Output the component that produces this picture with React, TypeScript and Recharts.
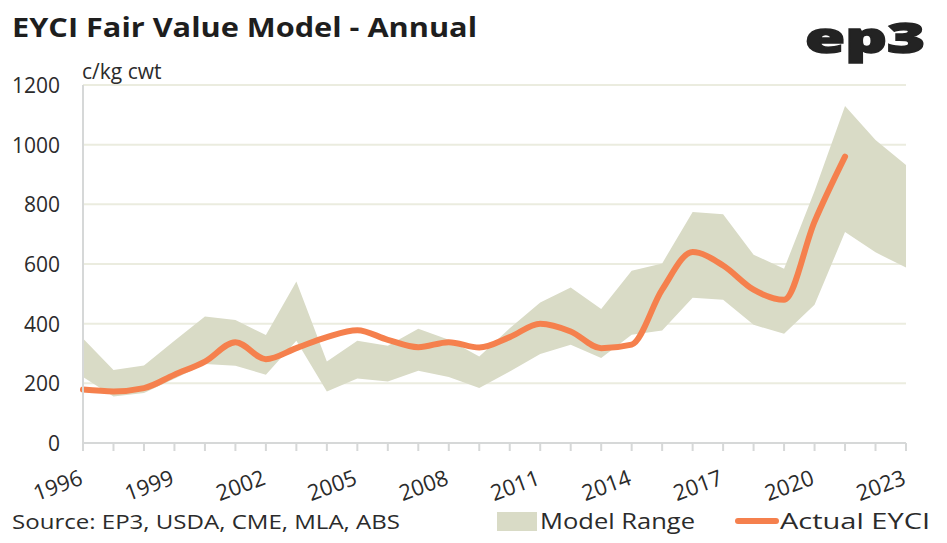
import React from "react";
import { ComposedChart, Area, Line, XAxis, YAxis, CartesianGrid } from "recharts";

// EYCI fair value model, c/kg cwt
const years = [
  1996, 1997, 1998, 1999, 2000, 2001, 2002, 2003, 2004, 2005, 2006, 2007, 2008, 2009,
  2010, 2011, 2012, 2013, 2014, 2015, 2016, 2017, 2018, 2019, 2020, 2021, 2022, 2023,
];
const modelHigh = [
  350, 245, 260, 343, 424, 412, 362, 541, 273, 343, 326, 383, 346, 290,
  385, 471, 521, 449, 577, 602, 774, 767, 631, 584, 845, 1130, 1016, 932,
];
const modelLow = [
  221, 156, 168, 215, 265, 259, 229, 343, 173, 216, 206, 242, 221, 184,
  240, 298, 329, 285, 363, 377, 487, 480, 396, 366, 463, 707, 639, 588,
];
const actualEyci: (number | null)[] = [
  179, 173, 184, 229, 273, 338, 281, 318, 355, 378, 346, 321, 338, 320,
  355, 400, 374, 318, 330, 514, 640, 595, 514, 480, 742, 960, null, null,
];
const yTicks = [0, 200, 400, 600, 800, 1000, 1200];
const labelYears = [1996, 1999, 2002, 2005, 2008, 2011, 2014, 2017, 2020, 2023];

const FONT = "'Open Sans', sans-serif";
const TEXT = "#2b2b2b";
const BAND = "#d9dbc6";
const ORANGE = "#f5804d";

const data = years.map((year, i) => ({
  year,
  range: [modelLow[i], modelHigh[i]],
  actual: actualEyci[i],
}));

function YTick(props: any) {
  const { y, payload } = props;
  return (
    <text x={60} y={y} textAnchor="end" dominantBaseline="central" fontSize={21} fill={TEXT} fontFamily={FONT}>
      {payload.value}
    </text>
  );
}

function XTick(props: any) {
  const { x, y, payload } = props;
  if (!labelYears.includes(payload.value)) return null;
  return (
    <g transform={`translate(${x + 1},${y + 31}) rotate(-20)`}>
      <text x={0} y={0} textAnchor="end" fontSize={22} fill={TEXT} fontFamily={FONT}>
        {payload.value}
      </text>
    </g>
  );
}

export default function App() {
  return (
    <div style={{ position: "absolute", left: 0, top: 0, width: 947, height: 543, background: "#fff", fontFamily: FONT }}>
      <svg style={{ position: "absolute", left: 0, top: 0 }} width={947} height={92}>
        <text x={12} y={37} fontSize={26} fontWeight={700} fill="#1e1e1e" fontFamily={FONT} textLength={465} lengthAdjust="spacingAndGlyphs">
          EYCI Fair Value Model - Annual
        </text>
        <text
          x={805}
          y={53}
          fontSize={43}
          fontWeight={800}
          fill="#232323"
          stroke="#232323"
          strokeWidth={1.5}
          fontFamily={FONT}
          textLength={120}
          lengthAdjust="spacingAndGlyphs"
        >
          ep3
        </text>
        <text x={82} y={79} fontSize={21} fill={TEXT} fontFamily={FONT}>
          c/kg cwt
        </text>
      </svg>

      <ComposedChart width={947} height={543} data={data} margin={{ top: 85, right: 41, bottom: 70, left: 0 }}>
        <CartesianGrid vertical={false} stroke="#ebecdf" strokeWidth={2} />
        <XAxis
          dataKey="year"
          type="number"
          domain={[1996, 2023]}
          ticks={years}
          interval={0}
          height={30}
          stroke="#d6d8d8"
          strokeWidth={2}
          tickSize={8}
          tickLine={{ stroke: "#d6d8d8", strokeWidth: 2 }}
          tick={<XTick />}
        />
        <YAxis
          domain={[0, 1200]}
          ticks={yTicks}
          width={83}
          stroke="#d6d8d8"
          strokeWidth={2}
          tickLine={false}
          tick={<YTick />}
        />
        <Area
          dataKey="range"
          type="linear"
          fill={BAND}
          fillOpacity={1}
          stroke="none"
          isAnimationActive={false}
        />
        <Line
          dataKey="actual"
          type="monotone"
          stroke={ORANGE}
          strokeWidth={6}
          strokeLinecap="round"
          dot={false}
          connectNulls={false}
          isAnimationActive={false}
        />
      </ComposedChart>

      <svg style={{ position: "absolute", left: 0, top: 500 }} width={947} height={43}>
        <text x={12} y={29} fontSize={20} fill={TEXT} fontFamily={FONT} textLength={388} lengthAdjust="spacingAndGlyphs">
          Source: EP3, USDA, CME, MLA, ABS
        </text>
        <rect x={497} y={12} width={40} height={19} fill={BAND} />
        <text x={540} y={29} fontSize={22} fill={TEXT} fontFamily={FONT} textLength={155} lengthAdjust="spacingAndGlyphs">
          Model Range
        </text>
        <line x1={738} y1={21} x2={776} y2={21} stroke={ORANGE} strokeWidth={6} strokeLinecap="round" />
        <text x={780} y={29} fontSize={22} fill={TEXT} fontFamily={FONT} textLength={150} lengthAdjust="spacingAndGlyphs">
          Actual EYCI
        </text>
      </svg>
    </div>
  );
}
